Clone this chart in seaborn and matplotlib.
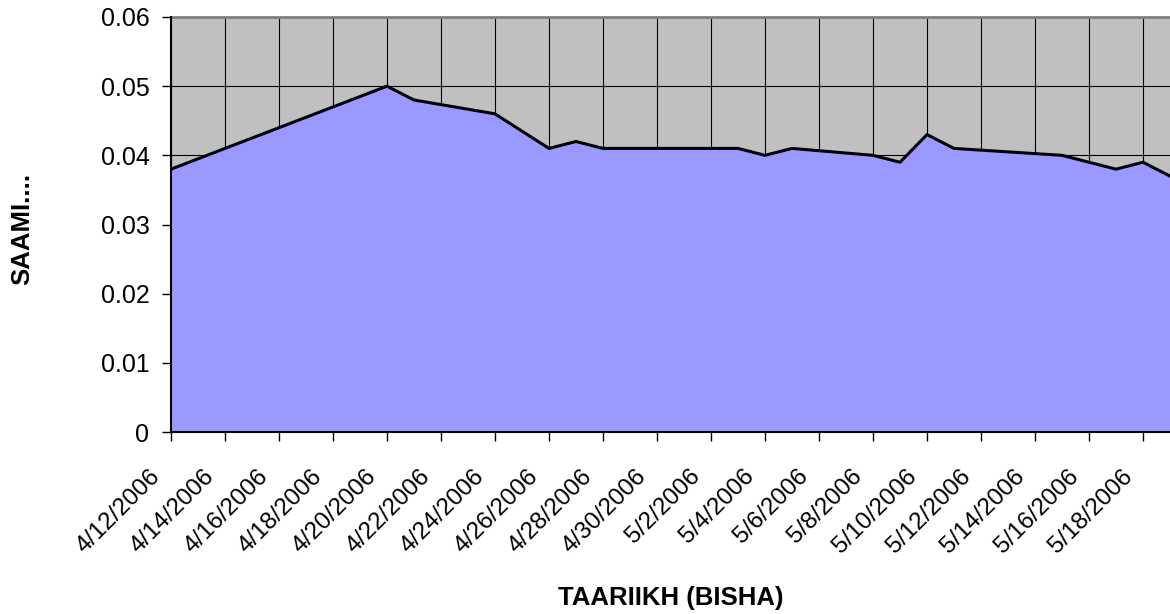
import pandas as pd
import seaborn as sns
import matplotlib.pyplot as plt
from matplotlib.transforms import ScaledTranslation

# data
dates = ["2006-04-12", "2006-04-20", "2006-04-21", "2006-04-24", "2006-04-26",
         "2006-04-27", "2006-04-28", "2006-05-03", "2006-05-04", "2006-05-05",
         "2006-05-08", "2006-05-09", "2006-05-10", "2006-05-11", "2006-05-15",
         "2006-05-17", "2006-05-18", "2006-05-19"]
values = [0.038, 0.050, 0.048, 0.046, 0.041,
          0.042, 0.041, 0.041, 0.040, 0.041,
          0.040, 0.039, 0.043, 0.041, 0.040,
          0.038, 0.039, 0.037]

x_tick_labels = ["4/12/2006", "4/14/2006", "4/16/2006", "4/18/2006", "4/20/2006",
                 "4/22/2006", "4/24/2006", "4/26/2006", "4/28/2006", "4/30/2006",
                 "5/2/2006", "5/4/2006", "5/6/2006", "5/8/2006", "5/10/2006",
                 "5/12/2006", "5/14/2006", "5/16/2006", "5/18/2006"]
y_ticks = [0, 0.01, 0.02, 0.03, 0.04, 0.05, 0.06]
y_tick_labels = ["0", "0.01", "0.02", "0.03", "0.04", "0.05", "0.06"]

x_title = "TAARIIKH (BISHA)"
y_title = "SAAMI...."

df = pd.DataFrame({"date": pd.to_datetime(dates), "value": values})
tick_dates = pd.to_datetime(x_tick_labels, format="%m/%d/%Y")

sns.set_style("white")
plt.rcParams["font.family"] = ["Liberation Sans", "DejaVu Sans"]
plt.rcParams["text.color"] = "black"
plt.rcParams["axes.labelcolor"] = "black"
plt.rcParams["xtick.color"] = "black"
plt.rcParams["ytick.color"] = "black"

fig = plt.figure(figsize=(11.7, 6.14), dpi=100)
ax = fig.add_axes([171 / 1170, 1 - 432 / 614, 999 / 1170, 415 / 614])
ax.set_facecolor("#C0C0C0")

# area + outline
ax.fill_between(df["date"], df["value"], 0, color="#9999FF", linewidth=0, zorder=2)
sns.lineplot(data=df, x="date", y="value", color="black", linewidth=2.2, ax=ax, zorder=3)

ax.set_xlim(pd.Timestamp("2006-04-12"), pd.Timestamp("2006-05-19"))
ax.set_ylim(0, 0.06)

ax.set_xticks(tick_dates)
ax.set_yticks(y_ticks)
ax.tick_params(axis="x", bottom=True, direction="out", length=6.5, width=1, pad=23,
               colors="black", labelsize=17.5)
ax.tick_params(axis="y", left=True, direction="out", length=6.5, width=1, pad=9,
               colors="black", labelsize=18)
ax.set_xticklabels(x_tick_labels, rotation=45, ha="right", va="center",
                   rotation_mode="anchor")
ax.set_yticklabels(y_tick_labels)

# shift the date labels a bit to the left like the original
offset = ScaledTranslation(-14 / 100, 0, fig.dpi_scale_trans)
for lbl in ax.get_xticklabels():
    lbl.set_transform(lbl.get_transform() + offset)

ax.grid(True, color="black", linewidth=0.8, zorder=1)
ax.set_axisbelow(True)

for side in ["left", "bottom"]:
    ax.spines[side].set_color("black")
    ax.spines[side].set_linewidth(1.5)
    ax.spines[side].set_zorder(4)
ax.spines["top"].set_color("#808080")
ax.spines["top"].set_linewidth(2)
ax.spines["right"].set_visible(False)

ax.set_xlabel(x_title, fontsize=18.5, fontweight="bold")
ax.set_ylabel(y_title, fontsize=18.5, fontweight="bold")
ax.xaxis.set_label_coords(0.5, (432 - 586) / 415)
ax.xaxis.label.set_va("top")
ax.yaxis.set_label_coords((34 - 171) / 999, 0.49)

fig.savefig("out.png", dpi=100)
